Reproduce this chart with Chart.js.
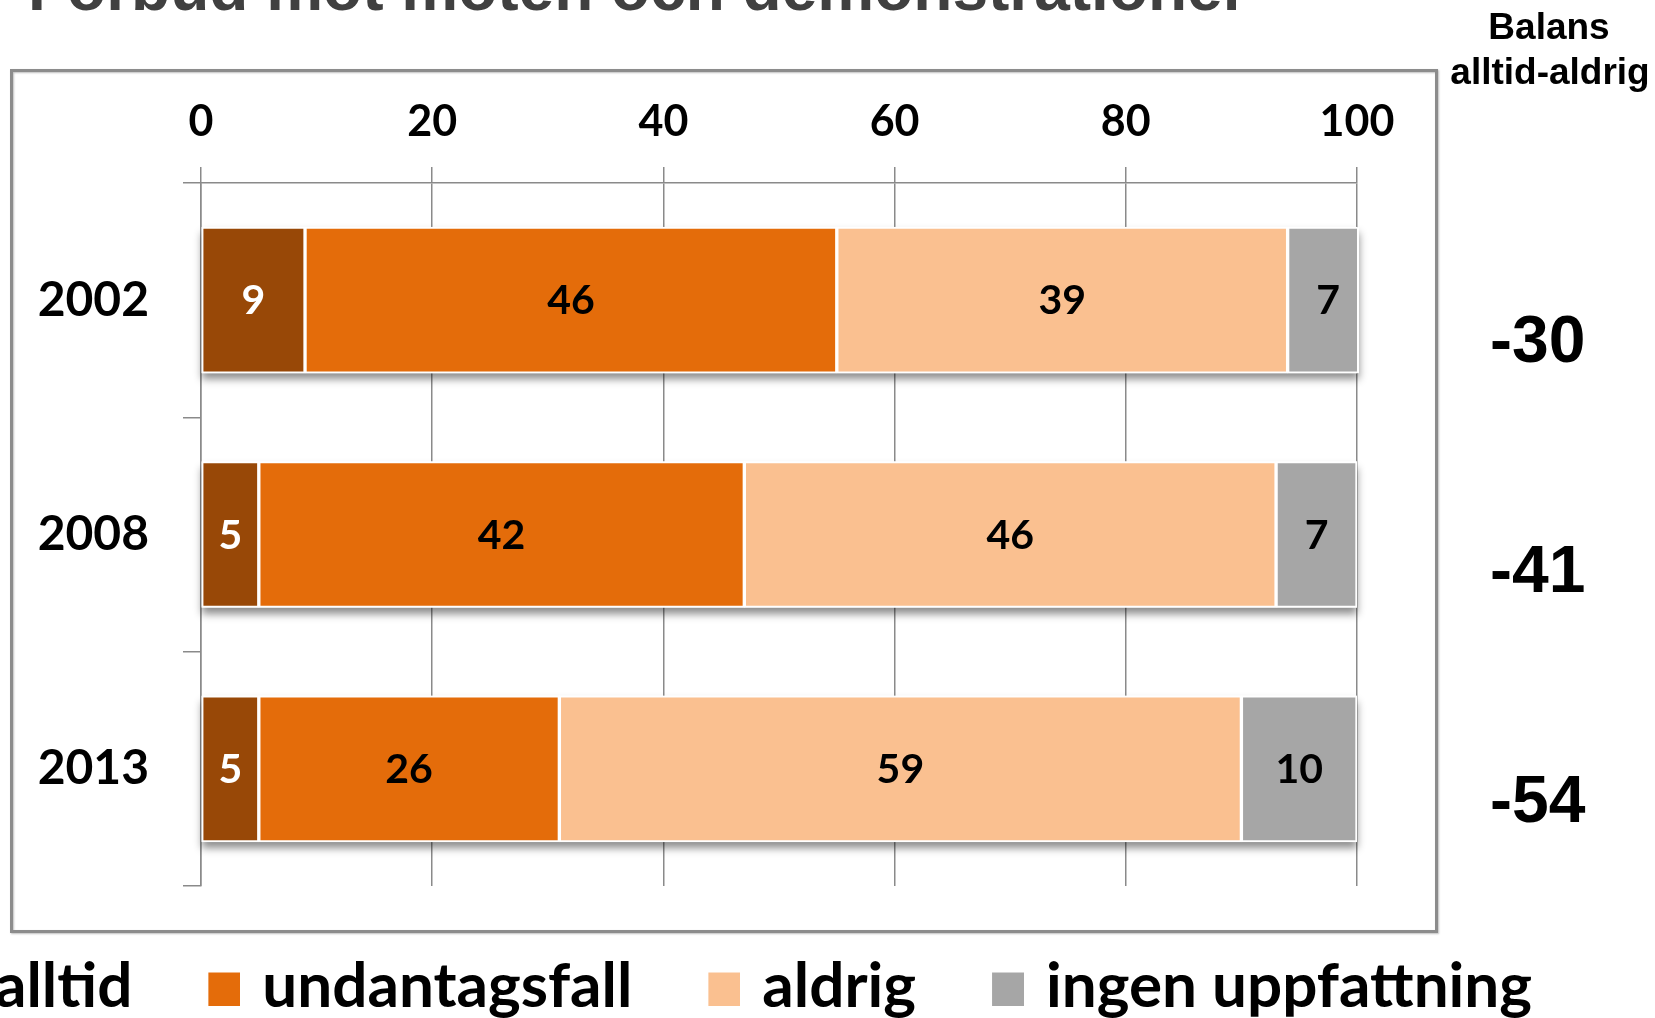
<!DOCTYPE html>
<html><head><meta charset="utf-8">
<script src="https://cdn.jsdelivr.net/npm/chart.js@4.4.1/dist/chart.umd.min.js"></script>
<style>
html,body{margin:0;padding:0;background:#fff;overflow:hidden;width:1655px;height:1018px;}
#c{position:absolute;left:-200px;top:0;}
</style></head><body>
<canvas id="c" width="1864" height="1028"></canvas>
<script>
// ---- data ----
const years = ['2002', '2008', '2013'];
const seriesNames = ['alltid', 'undantagsfall', 'aldrig', 'ingen uppfattning'];
const alltid = [9, 5, 5];
const undantagsfall = [46, 42, 26];
const aldrig = [39, 46, 59];
const ingenUppfattning = [7, 7, 10];
const balans = [-30, -41, -54];
const xTicks = [0, 20, 40, 60, 80, 100];
const titleText = 'Förbud mot möten och demonstrationer';
const balansHeader = ['Balans', 'alltid-aldrig'];

// ---- styling ----
const L = 200; // canvas starts this far left of the viewport
const W = 1864;
const colors = ['#984807', '#E46C0A', '#FAC090', '#A6A6A6'];
const labelColors = ['#ffffff', '#000000', '#000000', '#000000'];
const gridCol = '#8a8a8a';
const seriesValues = [alltid, undantagsfall, aldrig, ingenUppfattning];

// legend swatches: square drawn at the lower-right part of a larger image
function swatch(color) {
  const c = document.createElement('canvas');
  c.width = 50; c.height = 37;
  const g = c.getContext('2d');
  g.fillStyle = color;
  g.fillRect(18, 4, 32, 33);
  return c;
}
const swatches = colors.map(swatch);

const decor = {
  id: 'decor',
  beforeDatasetsDraw(chart) {
    const ctx = chart.ctx;
    const n = chart.data.datasets.length;
    const first = chart.getDatasetMeta(0), last = chart.getDatasetMeta(n - 1);
    ctx.save();
    ctx.shadowColor = 'rgba(0,0,0,0.45)';
    ctx.shadowBlur = 8;
    ctx.shadowOffsetY = 6;
    ctx.fillStyle = '#fff';
    first.data.forEach((el, j) => {
      const a = el.getProps(['base', 'y', 'height'], true);
      const b = last.data[j].getProps(['x'], true);
      const right = Math.min(b.x, chart.chartArea.right + 2);
      ctx.fillRect(a.base, a.y - a.height / 2, right - a.base, a.height);
    });
    ctx.restore();
  },
  afterDatasetsDraw(chart) {
    const ctx = chart.ctx;
    ctx.save();
    ctx.font = 'bold 41px Lato, "Open Sans", sans-serif';
    ctx.textAlign = 'center';
    ctx.textBaseline = 'middle';
    chart.data.datasets.forEach((ds, i) => {
      const meta = chart.getDatasetMeta(i);
      ctx.fillStyle = labelColors[i];
      meta.data.forEach((el, j) => {
        const p = el.getProps(['x', 'base', 'y'], true);
        ctx.fillText(String(ds.data[j]), (p.x + p.base) / 2, p.y + 1);
      });
    });
    ctx.restore();
  },
  afterDraw(chart) {
    const ctx = chart.ctx;
    ctx.save();
    ctx.shadowColor = 'rgba(0,0,0,0.25)';
    ctx.shadowBlur = 2;
    ctx.shadowOffsetX = 1;
    ctx.shadowOffsetY = 1;
    ctx.strokeStyle = '#8c8c8c';
    ctx.lineWidth = 3;
    ctx.strokeRect(L + 11.5, 70.5, 1425, 861);
    ctx.restore();
    ctx.save();
    ctx.font = 'bold 64px "Liberation Sans", Arial, sans-serif';
    ctx.fillStyle = '#404040';
    ctx.textAlign = 'left';
    ctx.textBaseline = 'alphabetic';
    ctx.fillText(titleText, L + 28, 10);
    ctx.font = 'bold 37px "Liberation Sans", Arial, sans-serif';
    ctx.fillStyle = '#000';
    ctx.textAlign = 'center';
    ctx.fillText(balansHeader[0], L + 1549, 39);
    ctx.fillText(balansHeader[1], L + 1550, 84);
    ctx.restore();
  }
};

const datasets = seriesNames.map((name, i) => ({
  label: name,
  data: seriesValues[i],
  backgroundColor: colors[i],
  borderColor: '#ffffff',
  borderWidth: 2,
  borderSkipped: false,
  barThickness: 146,
  yAxisID: 'y',
  xAxisID: 'x'
}));

new Chart(document.getElementById('c'), {
  type: 'bar',
  data: { labels: years, datasets },
  plugins: [decor],
  options: {
    indexAxis: 'y',
    responsive: false,
    animation: false,
    devicePixelRatio: 1,
    layout: { padding: 0 },
    scales: {
      x: {
        type: 'linear', position: 'top', stacked: true, min: 0, max: 100,
        afterBuildTicks(s) { s.ticks = xTicks.map(v => ({ value: v })); },
        afterFit(s) { s.height = 183; },
        ticks: { padding: 19, color: '#000', font: { family: 'Lato', weight: 'bold', size: 43 } },
        grid: { color: gridCol, lineWidth: 1.5, tickLength: 16, drawOnChartArea: true },
        border: { display: true, color: gridCol, width: 1.5 }
      },
      y: {
        type: 'category', position: 'left', stacked: true, offset: true,
        afterFit(s) { s.width = 201 + L; },
        ticks: { padding: 34, color: '#000', font: { family: 'Lato', weight: 'bold', size: 48 } },
        grid: { offset: true, drawOnChartArea: false, drawTicks: true, tickLength: 18, color: gridCol, lineWidth: 1.5 },
        border: { display: true, color: gridCol, width: 1.5 }
      },
      y2: {
        axis: 'y', type: 'linear', position: 'right', reverse: true, offset: false,
        min: -0.70, max: 2.3565, bounds: 'data',
        afterBuildTicks(s) { s.ticks = balans.map((v, i) => ({ value: i })); },
        afterFit(s) { s.width = W - (1357 + L); },
        ticks: {
          padding: 0, color: '#000',
          font: { family: '"Liberation Sans", Arial', weight: 'bold', size: 66 },
          callback: (v, i) => String(balans[i])
        },
        grid: { display: false, offset: false, drawTicks: true, tickLength: 133, drawOnChartArea: false },
        border: { display: false }
      }
    },
    plugins: {
      title: { display: false },
      tooltip: { enabled: false },
      legend: {
        position: 'bottom',
        title: { display: true, text: '', font: { size: 2.5 }, padding: 0 },
        labels: {
          usePointStyle: true, pointStyleWidth: 32, boxHeight: 33, padding: 67, color: '#000',
          font: { family: 'Lato', size: 62, weight: 'bold' },
          generateLabels(chart) {
            return Chart.defaults.plugins.legend.labels.generateLabels(chart).map((it, i) =>
              Object.assign(it, { lineWidth: 0, strokeStyle: 'rgba(0,0,0,0)', pointStyle: swatches[i] }));
          }
        }
      }
    }
  }
});
</script>
</body></html>
